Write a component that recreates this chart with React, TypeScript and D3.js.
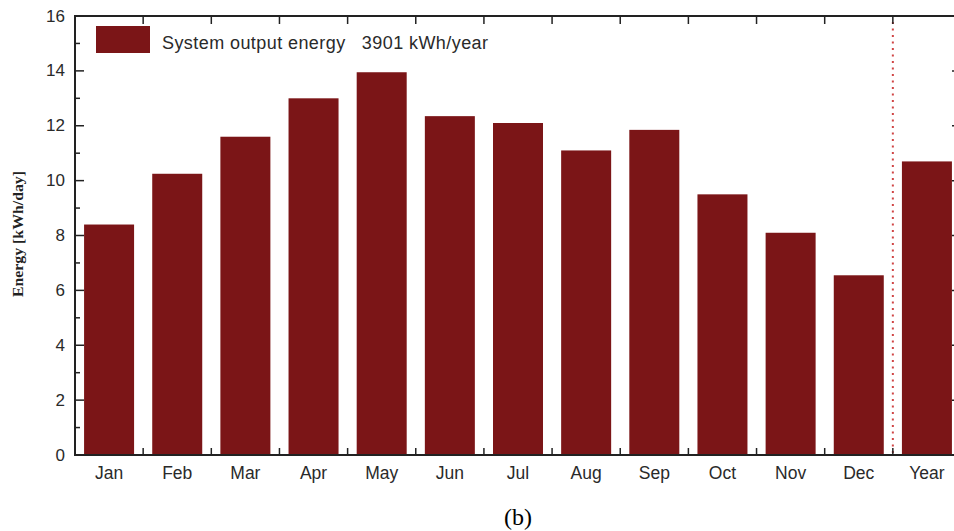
import React from "react";
import * as d3 from "d3";

const months = ["Jan", "Feb", "Mar", "Apr", "May", "Jun", "Jul", "Aug", "Sep", "Oct", "Nov", "Dec", "Year"];
const energy = [8.4, 10.25, 11.6, 13.0, 13.95, 12.35, 12.1, 11.1, 11.85, 9.5, 8.1, 6.55, 10.7];
const yTicks = [0, 2, 4, 6, 8, 10, 12, 14, 16];
const yMinor = [1, 3, 5, 7, 9, 11, 13, 15];
const legendLabel = "System output energy   3901 kWh/year";

const W = 954;
const H = 531;
const left = 75;
const right = 961;
const top = 16;
const bottom = 455;
const barColor = "#7b1517";
const axisColor = "#222";
const sans = "Arial, 'Liberation Sans', sans-serif";
const serif = "'Liberation Serif', 'Times New Roman', serif";

const App: React.FC = () => {
  const x = d3.scaleBand<string>().domain(months).range([left, right]).padding(0);
  const y = d3.scaleLinear().domain([0, 16]).range([bottom, top]);
  const barW = 50;
  const step = x.step();
  const boundaries = d3.range(1, months.length).map((i) => left + i * step);

  return (
    <svg width={W} height={H} style={{ position: "absolute", left: 0, top: 0, background: "#fff" }}>
      {/* bars */}
      {months.map((m, i) => (
        <rect
          key={m}
          x={(x(m) ?? 0) + (step - barW) / 2}
          y={y(energy[i])}
          width={barW}
          height={bottom - y(energy[i])}
          fill={barColor}
        />
      ))}

      {/* dotted separator before Year */}
      <line
        x1={x("Year")}
        x2={x("Year")}
        y1={top + 6}
        y2={bottom}
        stroke="#d04545"
        strokeWidth={2}
        strokeDasharray="2,4.5"
      />

      {/* frame */}
      <path
        d={`M${left},${bottom}V${top}H${right}V${bottom}Z`}
        fill="none"
        stroke={axisColor}
        strokeWidth={2}
      />

      {/* x ticks at band boundaries */}
      {boundaries.map((bx, i) => (
        <g key={i} stroke={axisColor} strokeWidth={1.5}>
          <line x1={bx} x2={bx} y1={bottom} y2={bottom - 7} />
          <line x1={bx} x2={bx} y1={top} y2={top + 8} />
        </g>
      ))}

      {/* y ticks */}
      {yTicks.map((t) => (
        <g key={t}>
          <line x1={left} x2={left + 9} y1={y(t)} y2={y(t)} stroke={axisColor} strokeWidth={1.5} />
          <line x1={right} x2={right - 9} y1={y(t)} y2={y(t)} stroke={axisColor} strokeWidth={1.5} />
          <text
            x={left - 10}
            y={y(t)}
            textAnchor="end"
            dominantBaseline="central"
            fontFamily={sans}
            fontSize={17}
            fill="#2a2a2a"
          >
            {t}
          </text>
        </g>
      ))}
      {yMinor.map((t) => (
        <g key={t} stroke={axisColor} strokeWidth={1.5}>
          <line x1={left} x2={left + 5} y1={y(t)} y2={y(t)} />
          <line x1={right} x2={right - 5} y1={y(t)} y2={y(t)} />
        </g>
      ))}

      {/* x labels */}
      {months.map((m) => (
        <text
          key={m}
          x={(x(m) ?? 0) + step / 2}
          y={473}
          textAnchor="middle"
          dominantBaseline="central"
          fontFamily={sans}
          fontSize={17.5}
          fill="#2a2a2a"
        >
          {m}
        </text>
      ))}

      {/* y axis title */}
      <text
        transform={`translate(18, 234) rotate(-90)`}
        textAnchor="middle"
        dominantBaseline="central"
        fontFamily={serif}
        fontSize={14}
        fontWeight="bold"
        textLength={126}
        lengthAdjust="spacingAndGlyphs"
        fill="#222"
      >
        Energy [kWh/day]
      </text>

      {/* legend */}
      <rect x={96} y={26} width={54} height={27} fill={barColor} />
      <text
        x={162}
        y={43}
        dominantBaseline="central"
        fontFamily={sans}
        fontSize={18}
        textLength={326}
        fill="#2a2a2a"
        style={{ whiteSpace: "pre" }}
      >
        {legendLabel}
      </text>

      {/* caption */}
      <text
        x={518}
        y={517}
        textAnchor="middle"
        dominantBaseline="central"
        fontFamily={serif}
        fontSize={24}
        fill="#000"
      >
        (b)
      </text>
    </svg>
  );
};

export default App;
